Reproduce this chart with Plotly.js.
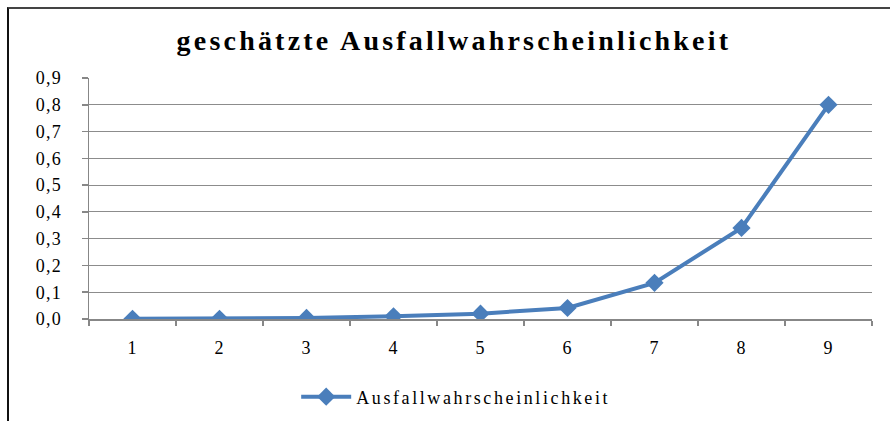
<!DOCTYPE html>
<html>
<head>
<meta charset="utf-8">
<script src="https://cdn.plot.ly/plotly-3.0.1.min.js"></script>
<style>
  html, body { margin: 0; padding: 0; background: #ffffff; }
  #wrap { position: relative; width: 890px; height: 421px; overflow: hidden; }
  #chart { position: absolute; left: 0; top: 0; width: 890px; height: 421px; }
  #frame { position: absolute; left: 7px; top: 7px; width: 900px; height: 430px;
           border-left: 2px solid #111; border-top: 2px solid #444; pointer-events: none; }
  .legendtext { letter-spacing: 2.6px; }
  .gtitle { letter-spacing: 3.2px; }
  .ytick text, .xtick text { letter-spacing: 1.2px; }
</style>
</head>
<body>
<div id="wrap">
  <div id="chart"></div>
  <div id="frame"></div>
</div>
<script>
const titleText = "geschätzte Ausfallwahrscheinlichkeit";
const seriesName = "Ausfallwahrscheinlichkeit";
const categories = ["1", "2", "3", "4", "5", "6", "7", "8", "9"];
const values = [0.0005, 0.001, 0.004, 0.01, 0.02, 0.041, 0.135, 0.34, 0.80];
const yTickVals = [0, 0.1, 0.2, 0.3, 0.4, 0.5, 0.6, 0.7, 0.8, 0.9];

const trace = {
  type: "scatter",
  mode: "lines+markers",
  x: categories,
  y: values,
  name: seriesName,
  line: { color: "#4A7EBB", width: 4 },
  marker: { symbol: "diamond", size: 14, color: "#4A7EBB" }
};

const serif = "'Liberation Serif', 'Times New Roman', serif";

const layout = {
  width: 890,
  height: 421,
  paper_bgcolor: "#ffffff",
  plot_bgcolor: "#ffffff",
  separators: ",.",
  margin: { l: 89, r: 18, t: 78, b: 102, pad: 0 },
  title: {
    text: "<b>" + titleText + "</b>",
    font: { family: serif, size: 28, color: "#000000" },
    xref: "container", yref: "container",
    x: 0.51, xanchor: "center",
    y: 0.905, yanchor: "middle"
  },
  xaxis: {
    type: "category",
    range: [-0.5, categories.length - 0.5],
    automargin: false,
    showgrid: false,
    showline: true,
    linecolor: "#878787",
    linewidth: 1.5,
    ticks: "outside",
    tickson: "boundaries",
    ticklen: 5,
    tickcolor: "#878787",
    tickwidth: 1.5,
    ticklabelstandoff: 12,
    tickfont: { family: serif, size: 18, color: "#000000" },
    zeroline: false,
    fixedrange: true
  },
  yaxis: {
    range: [0, 0.9],
    automargin: false,
    tickvals: yTickVals,
    tickformat: ".1f",
    showgrid: true,
    gridcolor: "#8c8c8c",
    gridwidth: 1.2,
    showline: true,
    linecolor: "#878787",
    linewidth: 1.5,
    ticks: "outside",
    ticklen: 6,
    tickcolor: "#878787",
    tickwidth: 1.5,
    ticklabelstandoff: 16,
    tickfont: { family: serif, size: 18, color: "#000000" },
    zeroline: false,
    fixedrange: true
  },
  showlegend: true,
  legend: {
    orientation: "h",
    xref: "container", yref: "container",
    x: 0.512, xanchor: "center",
    y: 0.057, yanchor: "middle",
    font: { family: serif, size: 18, color: "#000000" },
    bgcolor: "rgba(0,0,0,0)",
    itemwidth: 50
  }
};

Plotly.newPlot("chart", [trace], layout, { displayModeBar: false, staticPlot: true });
</script>
</body>
</html>
